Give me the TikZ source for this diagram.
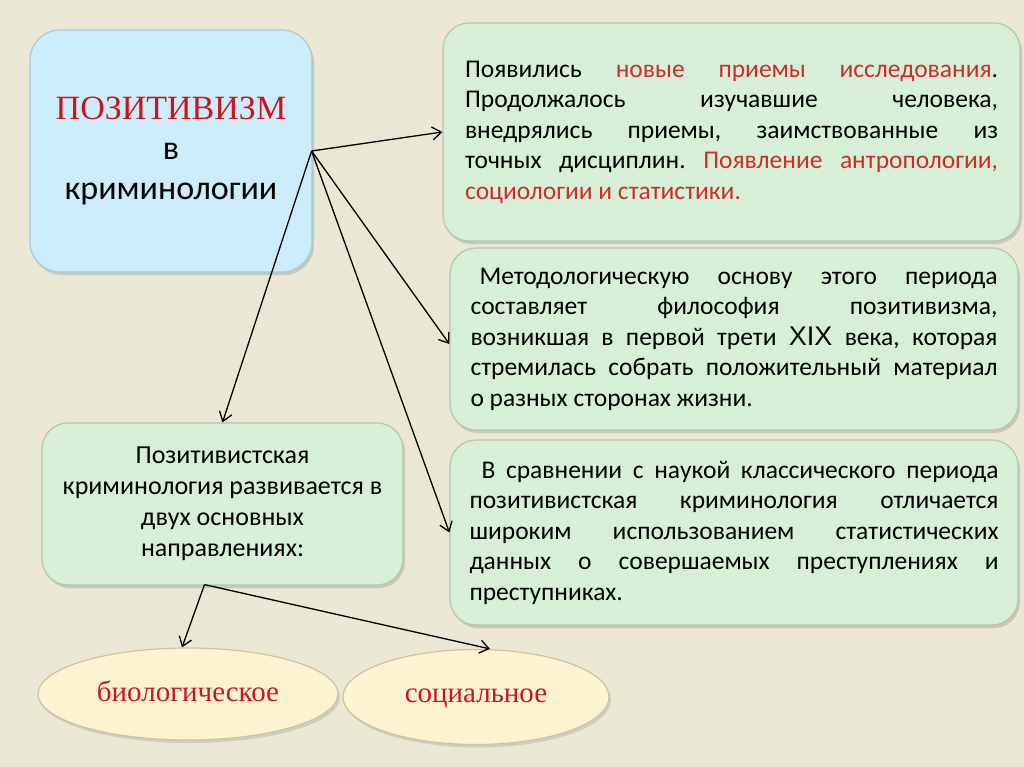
\documentclass[tikz,border=0pt]{standalone}
\usepackage{fontspec}
\setmainfont{Carlito}
\newfontfamily\serifru{Liberation Serif}
\newfontfamily\arialf{Liberation Sans}
\usetikzlibrary{arrows.meta,shapes.geometric,shadows}
\definecolor{bgc}{RGB}{234,231,213}
\definecolor{greenfill}{RGB}{214,239,214}
\definecolor{greenline}{RGB}{178,198,178}
\definecolor{bluefill}{RGB}{204,236,250}
\definecolor{blueline}{RGB}{170,200,215}
\definecolor{ellfill}{RGB}{250,242,208}
\definecolor{ellline}{RGB}{205,195,160}
\definecolor{titlered}{RGB}{200,22,32}
\definecolor{txtred}{RGB}{205,45,45}
\newcommand{\rt}[1]{{\color{txtred}#1}}
\frenchspacing
\tikzset{
  gbox/.style={draw=greenline, line width=1.2pt, fill=greenfill, rounded corners=26pt,
    drop shadow={opacity=0.3, shadow xshift=2pt, shadow yshift=-3pt}},
  bbox/.style={draw=blueline, line width=1.2pt, fill=bluefill, rounded corners=30pt,
    drop shadow={opacity=0.3, shadow xshift=2pt, shadow yshift=-3pt}},
  ell/.style={ellipse, draw=ellline, line width=1.2pt, fill=ellfill,
    font=\serifru\fontsize{29}{32}\selectfont, text=titlered,
    drop shadow={opacity=0.25, shadow xshift=2pt, shadow yshift=-3pt}},
  bodytext/.style={font=\fontsize{25.5}{30.5}\selectfont, align=justify},
  conn/.style={line width=1.3pt, -{Straight Barb[length=9pt,width=13pt,line width=1.3pt]}}
}
\begin{document}
\begin{tikzpicture}[x=1pt,y=-1pt]
\fill[bgc] (0,0) rectangle (1024,767);
\useasboundingbox (0,0) rectangle (1024,767);

\node[bbox, minimum width=282pt, minimum height=242pt, align=center,
  font=\fontsize{34}{40}\selectfont] (tl) at (171,151)
  {{\serifru\color{titlered}ПОЗИТИВИЗМ}\\в\\криминологии};

\node[gbox, minimum width=577pt, minimum height=218pt, text width=533pt, bodytext] (b1) at (731.5,132)
  {Появились \rt{новые приемы исследования}.\linebreak
   Продолжалось изучавшие человека,\linebreak
   внедрялись приемы, заимствованные из\linebreak
   точных дисциплин. \rt{Появление антропологии,}\linebreak
   \rt{социологии и статистики.}};

\node[gbox, minimum width=568pt, minimum height=182pt, text width=527pt, bodytext] (b2) at (734,339)
  {\hspace*{9pt}Методологическую основу этого периода\linebreak
   составляет философия позитивизма,\linebreak
   возникшая в первой трети {\arialf\fontsize{27}{30.5}\selectfont XIX} века, которая\linebreak
   стремилась собрать положительный материал\linebreak
   о разных сторонах жизни.};

\node[gbox, minimum width=568pt, minimum height=185pt, text width=529pt, bodytext] (b3) at (734,532.5)
  {\hspace*{12pt}В сравнении с наукой классического периода\linebreak
   позитивистская криминология отличается\linebreak
   широким использованием статистических\linebreak
   данных о совершаемых преступлениях и\linebreak
   преступниках.};

\node[gbox, minimum width=361pt, minimum height=162pt, align=center,
  font=\fontsize{26}{31}\selectfont] (bl) at (222.5,504)
  {Позитивистская\\криминология развивается в\\двух основных\\направлениях:};

\node[ell, minimum width=300pt, minimum height=92pt, text height=20pt, text depth=6pt] (e1) at (188,694) {биологическое};
\node[ell, minimum width=266pt, minimum height=95pt, text height=18pt, text depth=8pt] (e2) at (476,697) {социальное};

\coordinate (src) at ([xshift=-1pt]tl.east);
\draw[conn] (src) -- (b1.west);
\draw[conn] (src) -- ([yshift=-5pt]b2.west);
\draw[conn] (src) -- (b3.west);
\draw[conn] (src) -- (bl.north);

\coordinate (bs) at ([xshift=-18pt,yshift=1pt]bl.south);
\draw[conn] (bs) -- ([xshift=-6pt]e1.north);
\draw[conn] (bs) -- ([xshift=14pt]e2.north);
\end{tikzpicture}
\end{document}
